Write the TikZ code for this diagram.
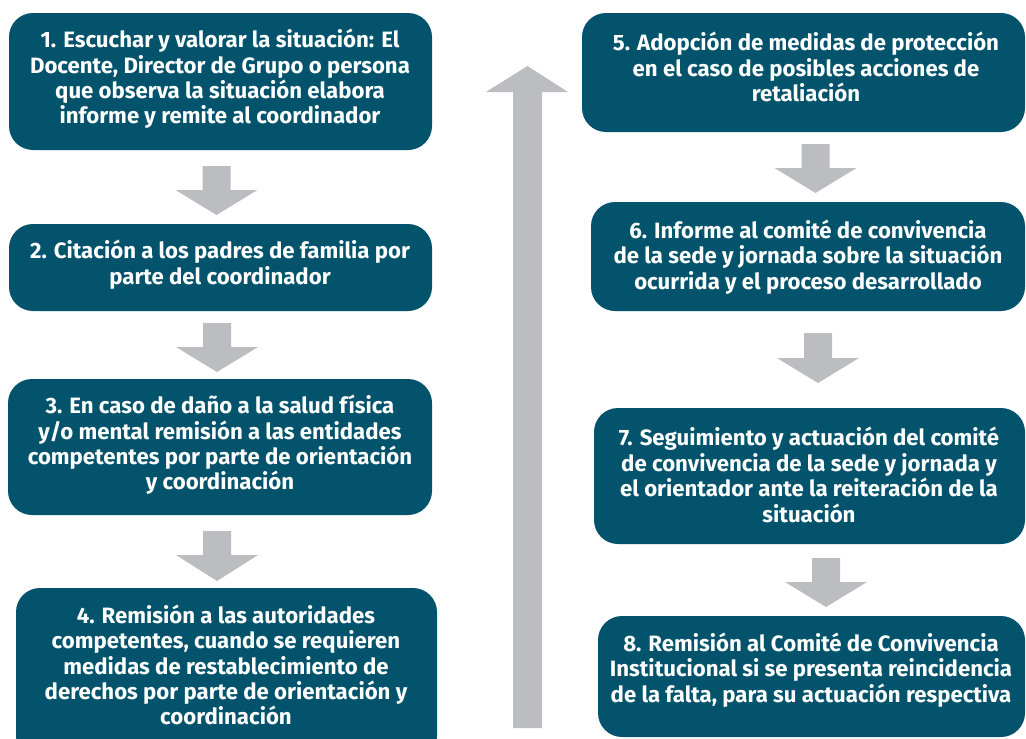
\documentclass[tikz,border=0pt]{standalone}
\usepackage{fontspec}
\newfontfamily\boxfont{Fira Sans}
\definecolor{tealbox}{HTML}{02536B}
\definecolor{arrowgray}{HTML}{BCBDC0}
\tikzset{
  stepbox/.style={fill=tealbox, rounded corners=24pt, inner sep=0pt},
  boxtext/.style={text=white, font=\boxfont\bfseries\fontsize{22.2}{25.4}\selectfont, align=center, inner sep=0pt},
  blockarrow/.style={fill=arrowgray, draw=none},
  pics/downarrow/.style 2 args={code={
    \fill[blockarrow] (-14,0) -- (14,0) -- (14,#1) -- (41,#1) -- (0,#2) -- (-41,#1) -- (-14,#1) -- cycle;
  }}
}
\begin{document}
\begin{tikzpicture}[x=1pt,y=-1pt]
\clip (0,0) rectangle (1026,739);
% left column boxes
\node[stepbox, minimum width=423pt, minimum height=137pt] (b1) at (220.5,81.5) {};
\node[stepbox, minimum width=423pt, minimum height=87pt] (b2) at (220.5,267.5) {};
\node[stepbox, minimum width=424pt, minimum height=136pt] (b3) at (220,447) {};
\node[stepbox, minimum width=421pt, minimum height=172pt] (b4) at (226.5,674) {};
% right column boxes
\node[stepbox, minimum width=443pt, minimum height=119pt] (b5) at (803.5,72.5) {};
\node[stepbox, minimum width=434pt, minimum height=109pt] (b6) at (808,256.5) {};
\node[stepbox, minimum width=431pt, minimum height=136pt] (b7) at (809.5,476) {};
\node[stepbox, minimum width=427pt, minimum height=121pt] (b8) at (811.5,676.5) {};
% texts
\node[boxtext] (t1) at (220,79) {1. Escuchar y valorar la situación: El\\Docente, Director de Grupo o persona\\que observa la situación elabora\\informe y remite al coordinador};
\node[boxtext] (t2) at (220,264.5) {2. Citación a los padres de familia por\\parte del coordinador};
\node[boxtext] (t3) at (220,445) {3. En caso de daño a la salud física\\y/o mental remisión a las entidades\\competentes por parte de orientación\\y coordinación};
\node[boxtext] (t4) at (226,665) {4. Remisión a las autoridades\\competentes, cuando se requieren\\medidas de restablecimiento de\\derechos por parte de orientación y\\coordinación};
\node[boxtext] (t5) at (806,67) {5. Adopción de medidas de protección\\en el caso de posibles acciones de\\retaliación};
\node[boxtext] (t6) at (808,257) {6. Informe al comité de convivencia\\de la sede y jornada sobre la situación\\ocurrida y el proceso desarrollado};
\node[boxtext] (t7) at (809,475) {7. Seguimiento y actuación del comité\\de convivencia de la sede y jornada y\\el orientador ante la reiteración de la\\situación};
\node[boxtext] (t8) at (811,670) {8. Remisión al Comité de Convivencia\\Institucional si se presenta reincidencia\\de la falta, para su actuación respectiva};
% down arrows
\pic (a12) at (216.5,166) {downarrow={24}{49}};
\pic (a23) at (217,323) {downarrow={24}{49}};
\pic (a34) at (217,531) {downarrow={24}{50}};
\pic (a56) at (815.5,144) {downarrow={24}{49}};
\pic (a67) at (818,333) {downarrow={25}{50}};
\pic (a78) at (826,558) {downarrow={24}{49}};
% tall up arrow
\coordinate (upbase) at (527.5,728);
\coordinate (uptip) at (527.5,66);
\fill[blockarrow] (513,728) -- (513,92) -- (486,92) -- (uptip) -- (568,92) -- (542,92) -- (542,728) -- cycle;
\end{tikzpicture}
\end{document}
